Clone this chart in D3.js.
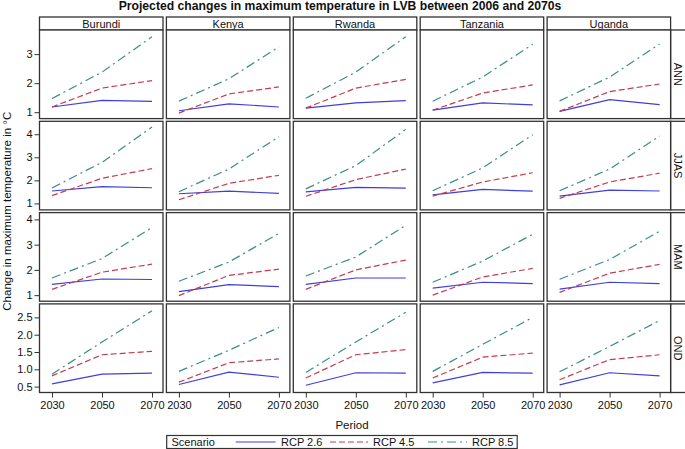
<!DOCTYPE html>
<html><head><meta charset="utf-8">
<script src="https://cdn.jsdelivr.net/npm/d3@7"></script>
<style>body{margin:0;background:#fff}svg{display:block}text{font-family:"Liberation Sans",Arial,sans-serif;fill:#111}</style>
</head><body><svg id="c" width="685" height="449"></svg>
<script>
const countries = ["Burundi","Kenya","Rwanda","Tanzania","Uganda"];
const seasons = ["ANN","JJAS","MAM","OND"];
const periods = [2030,2050,2070];
const scenarios = ["RCP 2.6","RCP 4.5","RCP 8.5"];
const yTicks = [[1,2,3],[1,2,3,4],[1,2,3,4],[0.5,1.0,1.5,2.0,2.5]];
const yDomains = [[0.78,3.83],[0.72,4.56],[0.76,4.27],[0.33,2.89]];

// values[season][country] = [RCP2.6, RCP4.5, RCP8.5], each over periods 2030/2050/2070
const ANN = [
  [[1.18,1.41,1.37],[1.18,1.83,2.09],[1.47,2.38,3.60]],
  [[1.05,1.29,1.18],[0.97,1.63,1.87],[1.38,2.15,3.25]],
  [[1.14,1.32,1.40],[1.14,1.83,2.13],[1.48,2.38,3.60]],
  [[1.07,1.32,1.25],[1.07,1.66,1.94],[1.38,2.21,3.34]],
  [[1.03,1.43,1.26],[1.03,1.71,1.97],[1.39,2.21,3.35]]
];
const JJAS = [
  [[1.54,1.73,1.68],[1.34,2.09,2.51],[1.67,2.78,4.31]],
  [[1.42,1.53,1.44],[1.16,1.87,2.22],[1.51,2.49,3.89]],
  [[1.50,1.70,1.66],[1.31,2.03,2.49],[1.63,2.64,4.21]],
  [[1.37,1.61,1.53],[1.32,1.93,2.33],[1.55,2.54,3.98]],
  [[1.32,1.58,1.54],[1.22,1.93,2.31],[1.55,2.49,3.92]]
];
const MAM = [
  [[1.43,1.64,1.62],[1.23,1.91,2.23],[1.68,2.45,3.68]],
  [[1.14,1.42,1.34],[0.98,1.78,2.03],[1.55,2.31,3.45]],
  [[1.43,1.68,1.68],[1.23,2.00,2.39],[1.76,2.51,3.77]],
  [[1.28,1.51,1.46],[1.00,1.72,2.06],[1.51,2.35,3.41]],
  [[1.24,1.51,1.46],[1.11,1.87,2.22],[1.63,2.41,3.53]]
];
const OND = [
  [[0.58,0.86,0.89],[0.81,1.42,1.52],[0.86,1.79,2.69]],
  [[0.56,0.92,0.77],[0.63,1.19,1.30],[0.94,1.55,2.21]],
  [[0.54,0.90,0.89],[0.75,1.42,1.57],[0.91,1.79,2.65]],
  [[0.61,0.91,0.89],[0.75,1.35,1.47],[0.94,1.72,2.50]],
  [[0.55,0.90,0.81],[0.70,1.28,1.42],[0.93,1.66,2.41]]
];
const seriesBySeason = [ANN, JJAS, MAM, OND];

const colors = ["#3f3fdb","#c43c52","#3a8d86"];
const dashes = [null,"6,3","9,4,2,4"];

const svg = d3.select("#c");
const L = 39.5, PW = 123.5, PP = 126.9;
const T = 30, PH = 88.6, RP = 91.3;
const stripTop = 17;

const x = d3.scaleLinear().domain([2025,2074.4]).range([0,PW]);

// title
svg.append("text").attr("x",340).attr("y",9.5).attr("text-anchor","middle")
  .attr("font-weight","bold").attr("font-size",12.2)
  .text("Projected changes in maximum temperature in LVB between 2006 and 2070s");

// top strips
countries.forEach((c,ci)=>{
  const g = svg.append("g").attr("transform",`translate(${L+ci*PP},${stripTop})`);
  g.append("rect").attr("width",PW).attr("height",T-stripTop).attr("fill","#fff").attr("stroke","#333").attr("stroke-width",1.3);
  g.append("text").attr("x",PW/2).attr("y",(T-stripTop)/2+4).attr("text-anchor","middle").attr("font-size",11).text(c);
});

seasons.forEach((s,si)=>{
  const top = T+si*RP;
  const y = d3.scaleLinear().domain(yDomains[si]).range([PH,0]);
  // right strip
  const rs = svg.append("g").attr("transform",`translate(${L+4*PP+PW},${top})`);
  rs.append("rect").attr("width",20).attr("height",PH).attr("fill","#fff").attr("stroke","#333").attr("stroke-width",1.3);
  rs.append("text").attr("transform",`translate(3.2,${PH/2}) rotate(90)`).attr("text-anchor","middle").attr("font-size",11).text(s);

  countries.forEach((c,ci)=>{
    const g = svg.append("g").attr("transform",`translate(${L+ci*PP},${top})`);
    g.append("rect").attr("width",PW).attr("height",PH).attr("fill","#fff");
    if(ci===0){
      const ax = g.append("g").call(d3.axisLeft(y).tickValues(yTicks[si]).tickSize(5).tickPadding(2)
        .tickFormat(si===3?d3.format(".1f"):d3.format("d")));
      ax.select(".domain").remove();
      ax.selectAll("line").attr("stroke","#333");
      ax.selectAll("text").attr("font-size",11).attr("fill","#111").style("font-family",'"Liberation Sans",Arial,sans-serif');
    }
    if(si===seasons.length-1){
      const ax = g.append("g").attr("transform",`translate(0,${PH})`).call(d3.axisBottom(x).tickValues(periods).tickSize(5).tickPadding(4).tickFormat(d3.format("d")));
      ax.select(".domain").remove();
      ax.selectAll("line").attr("stroke","#333");
      ax.selectAll("text").attr("font-size",11).attr("fill","#111").style("font-family",'"Liberation Sans",Arial,sans-serif');
    }
    const line = d3.line().x((d,i)=>x(periods[i])).y(d=>y(d));
    seriesBySeason[si][ci].forEach((vals,k)=>{
      g.append("path").attr("d",line(vals)).attr("fill","none").attr("stroke",colors[k])
        .attr("stroke-width",1.2).attr("stroke-dasharray",dashes[k]);
    });
    g.append("rect").attr("width",PW).attr("height",PH).attr("fill","none").attr("stroke","#333").attr("stroke-width",1.3);
  });
});

// axis titles
svg.append("text").attr("x",352).attr("y",429).attr("text-anchor","middle").attr("font-size",11.5).text("Period");
svg.append("text").attr("transform",`translate(11,${T+(3*RP+PH)/2}) rotate(-90)`).attr("text-anchor","middle").attr("font-size",11.5)
  .text("Change in maximum temperature in °C");

// legend
const lg = svg.append("g");
lg.append("rect").attr("x",166.7).attr("y",435.5).attr("width",350.5).attr("height",13).attr("fill","#fff").attr("stroke","#333").attr("stroke-width",1.2);
lg.append("text").attr("x",171.5).attr("y",446).attr("font-size",11).text("Scenario");
const legX = [[235.7,275.7,281],[330,368,373],[428,467,472]];
scenarios.forEach((sc,k)=>{
  lg.append("line").attr("x1",legX[k][0]).attr("x2",legX[k][1]).attr("y1",442).attr("y2",442)
    .attr("stroke",colors[k]).attr("stroke-width",1.2).attr("stroke-dasharray",dashes[k]);
  lg.append("text").attr("x",legX[k][2]).attr("y",446).attr("font-size",11).text(sc);
});
</script></body></html>
